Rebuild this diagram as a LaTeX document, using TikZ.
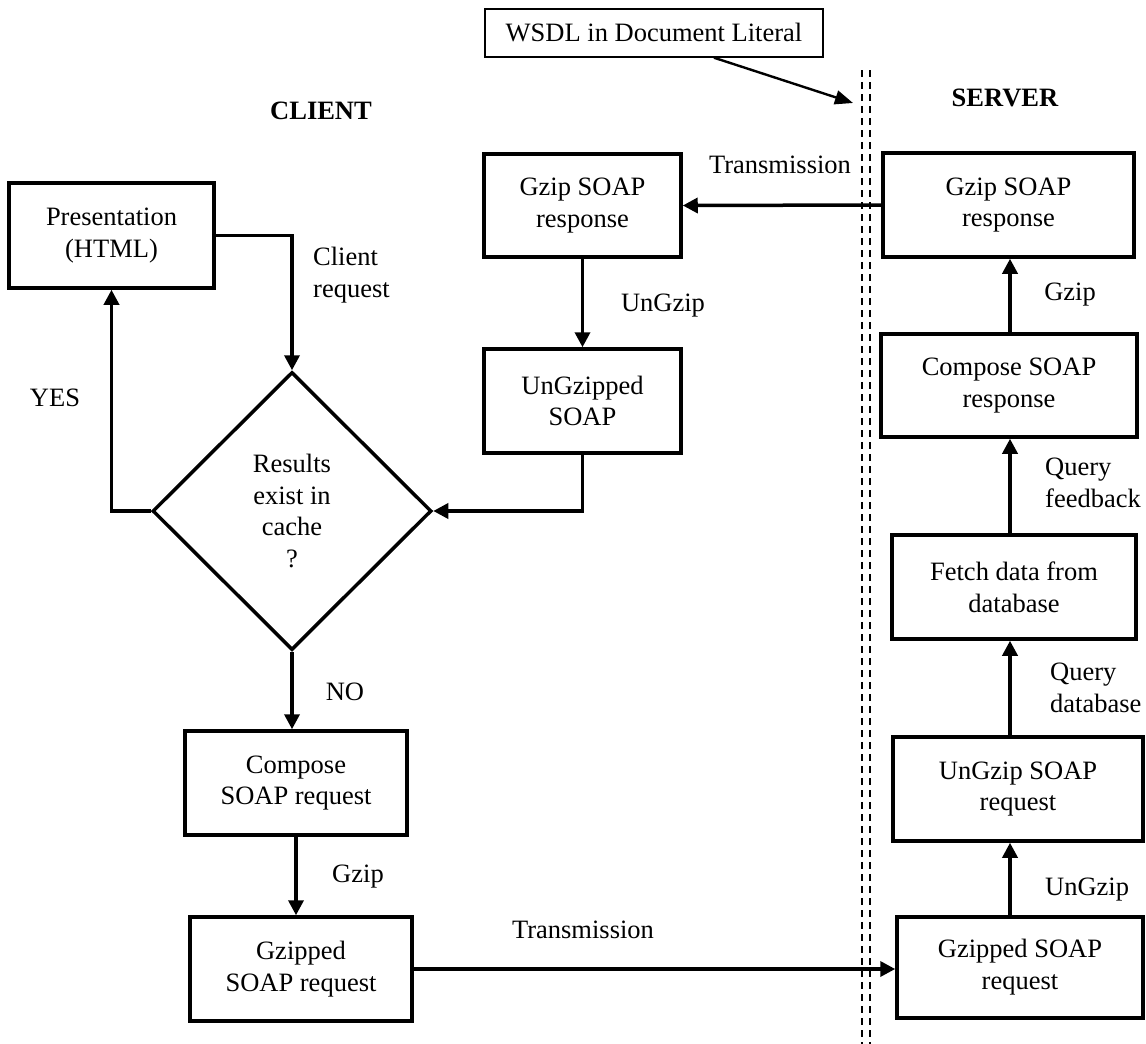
\documentclass[tikz,border=0pt]{standalone}
\usepackage{fontspec}
\setmainfont{Liberation Serif}
\usetikzlibrary{arrows.meta,shapes.geometric}
\begin{document}
\begin{tikzpicture}[x=1pt,y=-1pt,
  font=\fontsize{26.5}{31.8}\selectfont,
  procbox/.style={draw, line width=3.5pt, inner sep=0pt, align=center},
  decision/.style={draw, diamond, line width=3.5pt, inner sep=0pt, align=center,
    minimum width=279pt, minimum height=278pt},
  notebox/.style={draw, line width=1.4pt, inner sep=0pt, align=center,
    minimum width=338pt, minimum height=48pt},
  lbl/.style={inner sep=0pt, align=left},
  flow/.style={line width=3.5pt, -{Triangle[length=15pt,width=15pt]}},
  hint/.style={line width=2.4pt, -{Triangle[length=18pt,width=14pt]}},
  divider/.style={line width=2pt, dash pattern=on 7pt off 5pt}]

\useasboundingbox (0,0) rectangle (1146,1044);

% client / server divider
\draw[divider] (862,70) -- (862,1044);
\draw[divider] (870,70) -- (870,1044);

% headings
\node[lbl, font=\fontsize{26.5}{31.8}\selectfont\bfseries] (client) at (321,111) {CLIENT};
\node[lbl, font=\fontsize{26.5}{31.8}\selectfont\bfseries] (server) at (1005,98) {SERVER};

% WSDL note
\node[notebox] (wsdl) at (654,33) {WSDL in Document Literal};
\coordinate (wsdltip) at (853,103);
\draw[hint] ([xshift=60pt]wsdl.south) -- (wsdltip);

% client side
\node[procbox, minimum width=205pt, minimum height=105pt] (pres) at (111.5,235.5) {Presentation\\(HTML)};
\node[decision] (dia) at (292,511) {Results\\exist in\\cache\\?};
\node[procbox, minimum width=197pt, minimum height=103pt] (cgz) at (582.5,205.5) {Gzip SOAP\\response};
\node[procbox, minimum width=197pt, minimum height=104pt] (cung) at (582.5,401) {UnGzipped\\SOAP};
\node[procbox, minimum width=222pt, minimum height=104pt] (ccomp) at (296,783) {Compose\\SOAP request};
\node[procbox, minimum width=222pt, minimum height=104pt] (cgzreq) at (301,969) {Gzipped\\SOAP request};

% server side
\node[procbox, minimum width=251pt, minimum height=104pt] (sgz) at (1008.5,205) {Gzip SOAP\\response};
\node[procbox, minimum width=256pt, minimum height=103pt] (scomp) at (1009,385.5) {Compose SOAP\\response};
\node[procbox, minimum width=244pt, minimum height=104pt] (sfetch) at (1014,587) {Fetch data from\\database};
\node[procbox, minimum width=250pt, minimum height=104pt] (sungz) at (1018,789) {UnGzip SOAP\\request};
\node[procbox, minimum width=246pt, minimum height=101pt] (sgzreq) at (1020,967.5) {Gzipped SOAP\\request};

% edge labels
\node[lbl, anchor=west] (lclient) at (313,275) {Client\\request};
\node[lbl] (lyes) at (55,398) {YES};
\node[lbl] (lno) at (345,692) {NO};
\node[lbl] (lungzc) at (663,306) {UnGzip};
\node[lbl] (lgzc) at (358,877) {Gzip};
\node[lbl] (ltransb) at (583,930) {Transmission};
\node[lbl] (ltranst) at (780,165) {Transmission};
\node[lbl] (lgzs) at (1070,295) {Gzip};
\node[lbl, anchor=west] (lqf) at (1045,483) {Query\\feedback};
\node[lbl, anchor=west] (lqd) at (1050,688) {Query\\database};
\node[lbl, anchor=west] (lungzs) at (1045,890) {UnGzip};

% client flow
\draw[flow] (pres.east) -| (dia.north);
\draw[flow] (dia.west) -| (pres.south);
\draw[flow] (dia.south) -- (dia.south |- ccomp.north);
\draw[flow] (ccomp.south) -- (ccomp.south |- cgzreq.north);
\draw[flow] (cgzreq.east) -- (cgzreq.east -| sgzreq.west);
\draw[flow] (sgz.west) -- (cgz.east);
\draw[flow] (cgz.south) -- (cung.north);
\draw[flow] (cung.south) |- (dia.east);

% server flow
\coordinate (sx) at (1010,0);
\draw[flow] (sx |- sgzreq.north) -- (sx |- sungz.south);
\draw[flow] (sx |- sungz.north) -- (sx |- sfetch.south);
\draw[flow] (sx |- sfetch.north) -- (sx |- scomp.south);
\draw[flow] (sx |- scomp.north) -- (sx |- sgz.south);
\end{tikzpicture}
\end{document}
